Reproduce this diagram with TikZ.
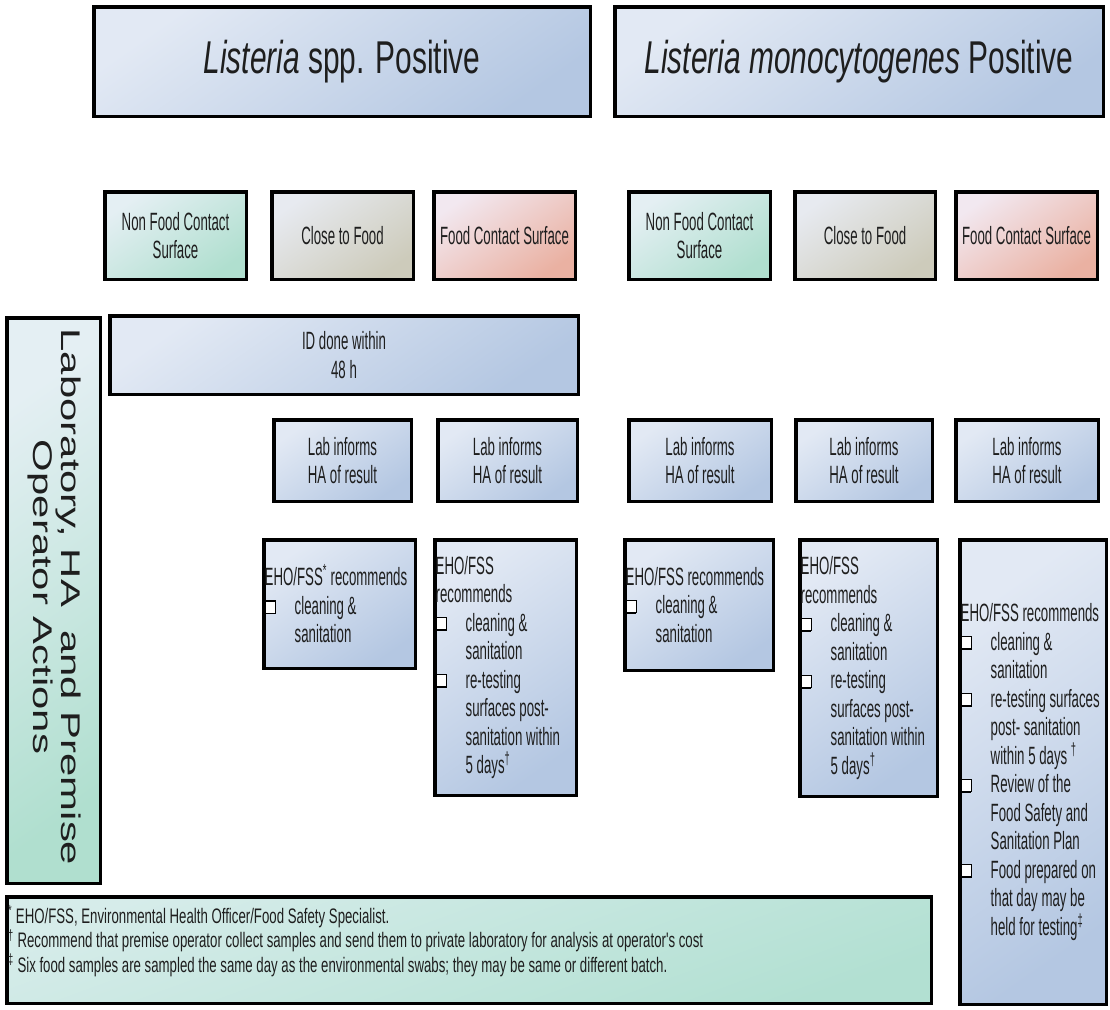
\documentclass[tikz,border=0pt]{standalone}
\usepackage{fontspec}
\setmainfont{Liberation Sans}[FakeStretch=0.53]
\newfontfamily\headfont{Liberation Sans}[FakeStretch=0.65]
\newfontfamily\notefont{Liberation Sans}[FakeStretch=0.63]
\newfontfamily\sidefont{Liberation Sans}[FakeStretch=1.55]
\usetikzlibrary{shadows}

\definecolor{blueL}{HTML}{E2E9F4}
\definecolor{blueD}{HTML}{B4C7E2}
\definecolor{greenL}{HTML}{E4EFF3}
\definecolor{greenD}{HTML}{B0DFCF}
\definecolor{noteL}{HTML}{D6ECEA}
\definecolor{noteD}{HTML}{B2E0D2}
\definecolor{beigeL}{HTML}{E7EAF0}
\definecolor{beigeD}{HTML}{CDCBBB}
\definecolor{pinkL}{HTML}{F2E8F0}
\definecolor{pinkD}{HTML}{EAB1A2}
\definecolor{ink}{HTML}{1E1E1E}

% text sizes
\newcommand\txtsize{\fontsize{25}{28.5}\selectfont}
\newcommand\notesize{\notefont\fontsize{21}{24.5}\selectfont}
% shadowed check box used in the recommendation lists
\newcommand\chk{\makebox[30pt][l]{\raisebox{1.8pt}{\rlap{\hspace{-1.8pt}\raisebox{-1.8pt}{\color{black}\rule{11.6pt}{13.6pt}}}{\setlength\fboxsep{0pt}\setlength\fboxrule{1.3pt}\fcolorbox{black}{white}{\rule{0pt}{11pt}\rule{9pt}{0pt}}}}}}
\newcommand\indnt{\hspace*{30pt}}

\tikzset{
  panel/.style={draw=black, line width=3.5pt, rectangle, inner sep=0pt,
    drop shadow={shadow xshift=1.3pt, shadow yshift=-1.3pt, opacity=0.3},
    text=ink, align=center, font=\txtsize},
  bluebox/.style={panel, top color=blueL, bottom color=blueD, shading angle=35},
  greenbox/.style={panel, top color=greenL, bottom color=greenD, shading angle=35},
  notebox/.style={panel, top color=noteL, bottom color=noteD, shading angle=20},
  beigebox/.style={panel, top color=beigeL, bottom color=beigeD, shading angle=35},
  pinkbox/.style={panel, top color=pinkL, bottom color=pinkD, shading angle=35},
  listtext/.style={anchor=west, inner sep=0pt, align=left, text=ink, font=\txtsize},
  headtext/.style={font=\headfont\fontsize{46}{52}\selectfont},
}

\begin{document}
\begin{tikzpicture}[x=1pt, y=-1pt]
\useasboundingbox (0,0) rectangle (1110,1009);

% column headers
\node[bluebox, headtext, minimum width=496.5pt, minimum height=109.5pt] (h1) at (342,61.5)
  {\textit{Listeria} spp. Positive};
\node[bluebox, headtext, minimum width=488.5pt, minimum height=109.5pt] (h2) at (859,61.5)
  {\textit{Listeria monocytogenes} Positive};

% surface categories
\node[greenbox, minimum width=141.5pt, minimum height=87.5pt] (c1) at (175.5,235.5) {Non Food Contact\\Surface};
\node[beigebox, minimum width=141.5pt, minimum height=87.5pt] (c2) at (342.5,235.5) {Close to Food};
\node[pinkbox,  minimum width=141.5pt, minimum height=87.5pt] (c3) at (504.5,235.5) {Food Contact Surface};
\node[greenbox, minimum width=141.5pt, minimum height=87.5pt] (c4) at (699.5,235.5) {Non Food Contact\\Surface};
\node[beigebox, minimum width=140.5pt, minimum height=87.5pt] (c5) at (865,235.5) {Close to Food};
\node[pinkbox,  minimum width=141.5pt, minimum height=87.5pt] (c6) at (1026.5,235.5) {Food Contact Surface};

% side label
\node[greenbox, minimum width=93.5pt, minimum height=565.5pt] (side) at (53.5,600.5) {};
\node[rotate=-90, align=center, text=ink, inner sep=0pt,
      font=\sidefont\fontsize{27}{28}\selectfont] (sidetext) at (54.5,597)
  {Laboratory, HA\ \ and Premise\\Operator Actions};

% identification
\node[bluebox, minimum width=468.5pt, minimum height=78.5pt] (id) at (344,355) {ID done within\\48 h};

% lab notifications
\node[bluebox, minimum width=137.5pt, minimum height=81.5pt] (l1) at (342.5,460.5) {Lab informs\\HA of result};
\node[bluebox, minimum width=139.5pt, minimum height=81.5pt] (l2) at (507.5,460.5) {Lab informs\\HA of result};
\node[bluebox, minimum width=142.5pt, minimum height=81.5pt] (l3) at (700,460.5) {Lab informs\\HA of result};
\node[bluebox, minimum width=136.5pt, minimum height=81.5pt] (l4) at (864,460.5) {Lab informs\\HA of result};
\node[bluebox, minimum width=142.5pt, minimum height=81.5pt] (l5) at (1027,460.5) {Lab informs\\HA of result};

% recommendations
\node[bluebox, minimum width=151.5pt, minimum height=128.5pt] (e1) at (339.5,604) {};
\node[listtext] (e1t) at ([xshift=2.5pt]e1.west)
  {EHO/FSS\textsuperscript{*} recommends\\
   \chk cleaning \&\\
   \indnt sanitation};

\node[bluebox, minimum width=141.5pt, minimum height=255.5pt] (e2) at (505.5,667.5) {};
\node[listtext] (e2t) at ([xshift=2.5pt]e2.west)
  {EHO/FSS\\
   recommends\\
   \chk cleaning \&\\
   \indnt sanitation\\
   \chk re-testing\\
   \indnt surfaces post-\\
   \indnt sanitation within\\
   \indnt 5 days\textsuperscript{\dag}};

\node[bluebox, minimum width=148.5pt, minimum height=130.5pt] (e3) at (699,605) {};
\node[listtext] (e3t) at ([xshift=2.5pt]e3.west)
  {EHO/FSS recommends\\
   \chk cleaning \&\\
   \indnt sanitation};

\node[bluebox, minimum width=137.5pt, minimum height=256.5pt] (e4) at (868.5,668) {};
\node[listtext] (e4t) at ([xshift=2.5pt]e4.west)
  {EHO/FSS\\
   recommends\\
   \chk cleaning \&\\
   \indnt sanitation\\
   \chk re-testing\\
   \indnt surfaces post-\\
   \indnt sanitation within\\
   \indnt 5 days\textsuperscript{\dag}};

\node[bluebox, minimum width=146.5pt, minimum height=464.5pt] (e5) at (1033,772) {};
\node[listtext] (e5t) at ([xshift=2.5pt]e5.west)
  {EHO/FSS recommends\\
   \chk cleaning \&\\
   \indnt sanitation\\
   \chk re-testing surfaces\\
   \indnt post- sanitation\\
   \indnt within 5 days \textsuperscript{\dag}\\
   \chk Review of the\\
   \indnt Food Safety and\\
   \indnt Sanitation Plan\\
   \chk Food prepared on\\
   \indnt that day may be\\
   \indnt held for testing\textsuperscript{\ddag}};

% footnotes
\node[notebox, minimum width=924.5pt, minimum height=106.5pt] (foot) at (469,950) {};
\node[listtext, font=\notesize] (foottext) at (8,941)
  {\textsuperscript{*} EHO/FSS, Environmental Health Officer/Food Safety Specialist.\\
   \textsuperscript{\dag} Recommend that premise operator collect samples and send them to private laboratory for analysis at operator's cost\\
   \textsuperscript{\ddag} Six food samples are sampled the same day as the environmental swabs; they may be same or different batch.};
\end{tikzpicture}
\end{document}
